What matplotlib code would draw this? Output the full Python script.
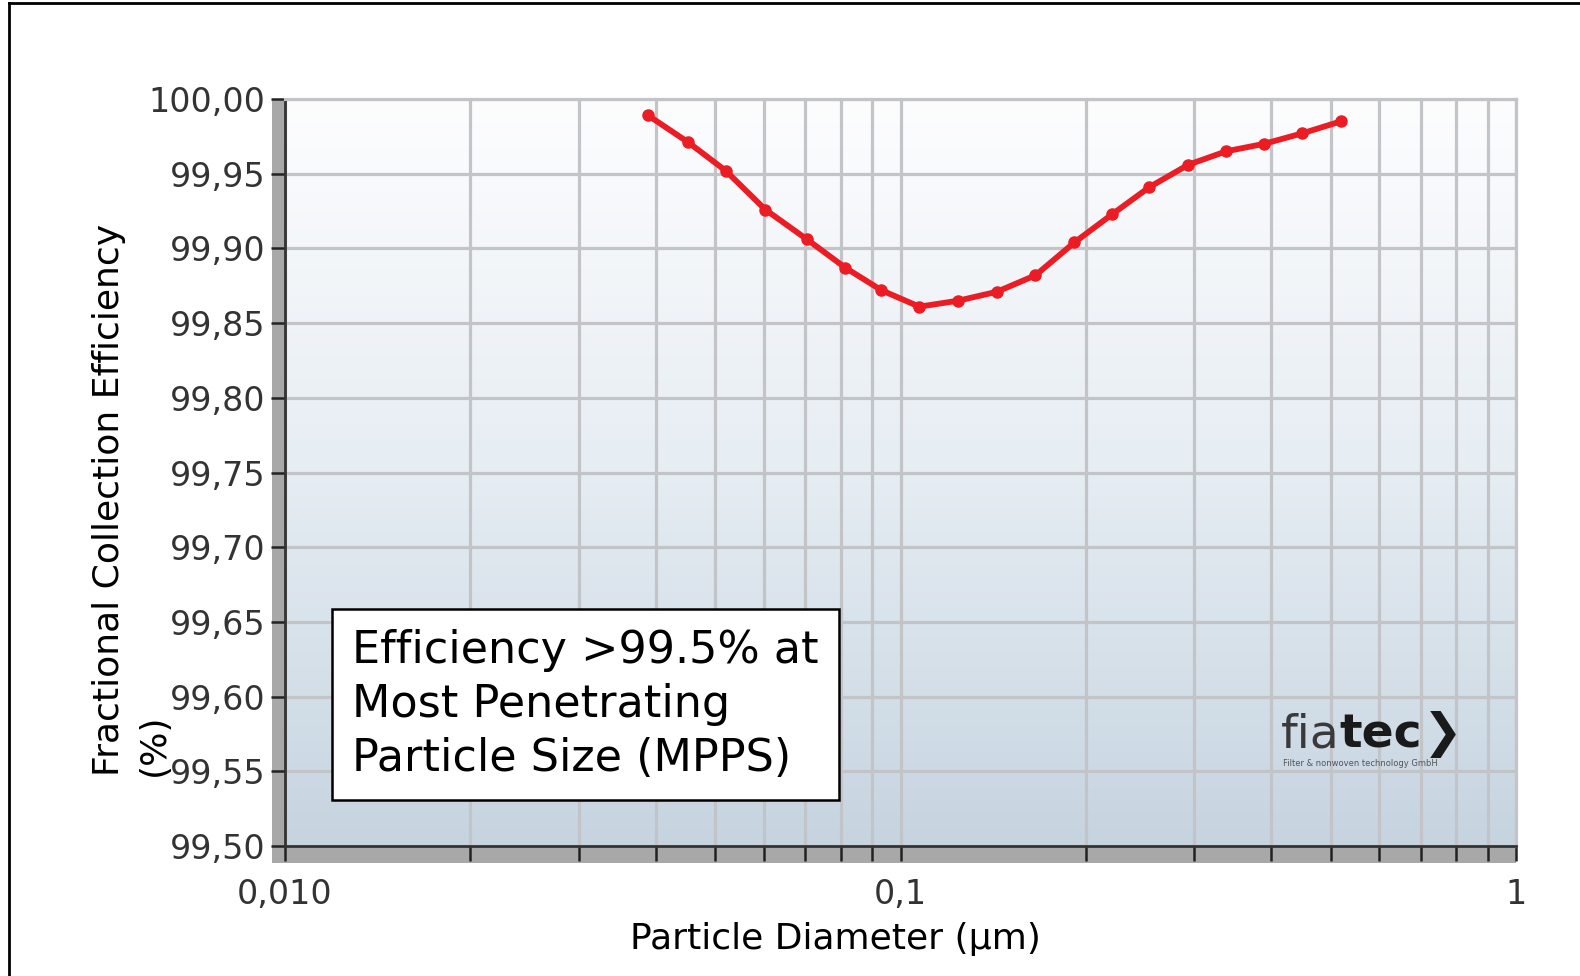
import numpy as np
import matplotlib
matplotlib.use("Agg")
import matplotlib.pyplot as plt
from matplotlib.patches import Rectangle
from matplotlib.lines import Line2D
from matplotlib.ticker import FixedLocator, LogLocator, NullFormatter

# dados (diametro em um, eficiencia em %)
diameter = [0.0389, 0.0452, 0.0520, 0.0603, 0.0705, 0.0814, 0.0931, 0.1073,
            0.1241, 0.1435, 0.1657, 0.1917, 0.2210, 0.2537, 0.2935, 0.3383,
            0.3898, 0.4494, 0.5191]
efficiency = [99.989, 99.971, 99.952, 99.926, 99.906, 99.887, 99.872, 99.861,
              99.865, 99.871, 99.882, 99.904, 99.923, 99.941, 99.956, 99.965,
              99.970, 99.977, 99.985]

y_ticks = [99.50, 99.55, 99.60, 99.65, 99.70, 99.75, 99.80, 99.85, 99.90, 99.95, 100.00]
x_ticks = [0.01, 0.1, 1]
x_tick_labels = ["0,010", "0,1", "1"]

W, H = 1580, 976


def fx(px):
    return px / W


def fy(py):
    return 1 - py / H


fig = plt.figure(figsize=(15.8, 9.76), dpi=100)
fig.patch.set_facecolor("white")

# posicao dos eixos em pixels
left, right, top, bottom = 285, 1516, 99, 846
rect = [fx(left), fy(bottom), fx(right) - fx(left), fy(top) - fy(bottom)]

# fundo em degrade
ax_bg = fig.add_axes(rect, zorder=0)
grad = np.linspace(0, 1, 256).reshape(-1, 1)
cmap = matplotlib.colors.LinearSegmentedColormap.from_list(
    "bg", ["#fdfdfe", "#e6edf3", "#c6d4e0"])
ax_bg.imshow(grad, aspect="auto", cmap=cmap, extent=[0, 1, 0, 1], origin="upper")
ax_bg.axis("off")

ax = fig.add_axes(rect, zorder=1)
ax.set_facecolor("none")
ax.set_xscale("log")
ax.set_xlim(0.01, 1)
ax.set_ylim(99.50, 100.00)

# paredes cinzas (efeito 3D)
fig.add_artist(Rectangle((fx(272), fy(863)), fx(285) - fx(272), fy(99) - fy(863),
                         transform=fig.transFigure, facecolor="#a8a8a8",
                         edgecolor="none", zorder=0.5))
fig.add_artist(Rectangle((fx(272), fy(863)), fx(right) - fx(272), fy(847) - fy(863),
                         transform=fig.transFigure, facecolor="#a8a8a8",
                         edgecolor="none", zorder=0.5))

grid_color = "#c3c4c8"
ax.grid(True, which="major", axis="both", color=grid_color, linewidth=2.3)
ax.grid(True, which="minor", axis="x", color=grid_color, linewidth=2.3)
ax.set_axisbelow(True)

ax.plot(diameter, efficiency, color="#ec1c24", linewidth=4.2, marker="o",
        markersize=8, zorder=3, clip_on=False)

ax.yaxis.set_major_locator(FixedLocator(y_ticks))
ax.set_yticklabels([("%.2f" % v).replace(".", ",") for v in y_ticks])
ax.xaxis.set_major_locator(FixedLocator(x_ticks))
ax.set_xticklabels(x_tick_labels)
ax.xaxis.set_minor_locator(LogLocator(base=10, subs=np.arange(2, 10)))
ax.xaxis.set_minor_formatter(NullFormatter())

ax.tick_params(axis="y", direction="out", length=10, width=1.8, color="#222222",
               labelsize=24, labelcolor="#333333", pad=4)
ax.tick_params(axis="x", which="both", direction="out", length=11, width=1.8,
               color="#222222", labelsize=24, labelcolor="#333333", pad=12)

for side in ["left", "bottom"]:
    ax.spines[side].set_color("#333333")
    ax.spines[side].set_linewidth(2)
for side in ["top", "right"]:
    ax.spines[side].set_color(grid_color)
    ax.spines[side].set_linewidth(2.3)

# rotulos dos eixos
fig.text(fx(835), fy(939), "Particle Diameter (\u00b5m)", fontsize=26,
         ha="center", va="center", color="black")
fig.text(fx(131), fy(776), "Fractional Collection Efficiency\n(%)", fontsize=26,
         rotation=90, ha="center", va="bottom", multialignment="left",
         linespacing=1.4, color="black")

# caixa de texto
fig.text(fx(352), fy(629), "Efficiency >99.5% at\nMost Penetrating\nParticle Size (MPPS)",
         fontsize=32, ha="left", va="top", linespacing=1.32, color="black",
         bbox=dict(boxstyle="square,pad=0.45", facecolor="white",
                   edgecolor="black", linewidth=1.8), zorder=5)

# logotipo
t1 = fig.text(fx(1281), fy(748), "fia", fontsize=34, color="#3a3a3a",
              ha="left", va="baseline", zorder=5)
t2 = ax.annotate("tec", xy=(1, 0), xycoords=t1, fontsize=34, fontweight="bold",
                 color="#1a1a1a", ha="left", va="bottom", annotation_clip=False)
t3 = ax.annotate("\u276f", xy=(1, 0), xycoords=t2, fontsize=34, fontweight="bold",
                 color="#1a1a1a", ha="left", va="bottom", annotation_clip=False)
fig.text(fx(1283), fy(763), "Filter & nonwoven technology GmbH", fontsize=6,
         color="#555555", ha="left", va="center")

# moldura externa
fig.add_artist(Line2D([fx(9), 1], [fy(3), fy(3)], transform=fig.transFigure,
                      color="black", linewidth=2))
fig.add_artist(Line2D([fx(9), fx(9)], [fy(3), 0], transform=fig.transFigure,
                      color="black", linewidth=2))

fig.savefig("out.png", dpi=100)
